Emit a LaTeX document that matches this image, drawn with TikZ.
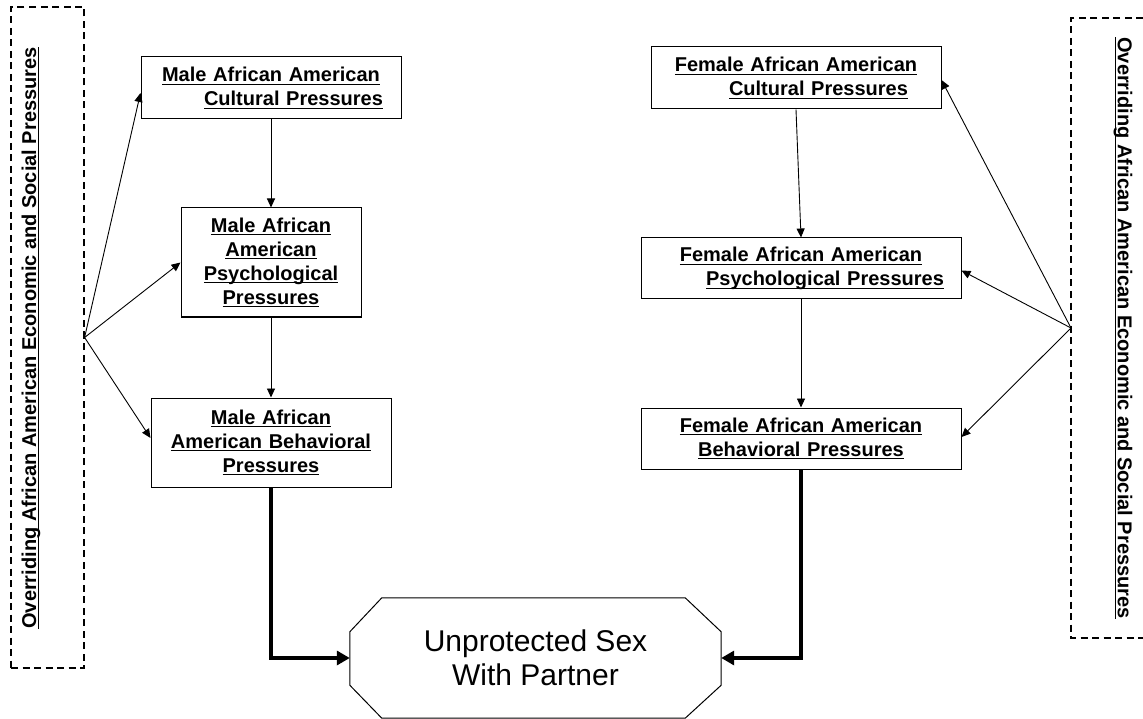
\documentclass[tikz,border=0pt]{standalone}
\usepackage{fontspec}
\setmainfont{Liberation Sans}
\usetikzlibrary{arrows.meta,calc}
\newsavebox\ulbox
\newcommand\ulx[1]{\leavevmode\hbox{\sbox\ulbox{#1}\rlap{\rule[-3pt]{\wd\ulbox}{1pt}}\usebox\ulbox}}
\begin{document}
\begin{tikzpicture}[x=1pt,y=-1pt,
  box/.style={draw,line width=1pt,inner xsep=0pt,inner ysep=0pt,align=center,font=\fontsize{20}{24}\selectfont\bfseries},
  thinarrow/.style={line width=0.9pt,-{Triangle[length=9pt,width=8pt]}},
  boldarrow/.style={line width=4pt,-{Triangle[length=13pt,width=14pt]}},
  dbox/.style={draw,dash pattern=on 7pt off 4.5pt,line width=1.2pt},
  side/.style={font=\fontsize{20}{24}\selectfont\bfseries,inner sep=0pt}]
\useasboundingbox (0,0) rectangle (1143,719);
% dashed side boxes
\node[dbox,minimum width=73pt,minimum height=661pt,inner sep=0pt] (lbox) at (47.5,337.5) {};
\node[side,rotate=90] (ltext) at (31,338) {\ulx{Overriding African American Economic and Social Pressures}};
\draw[dbox] (1143,18) -- (1071,18) -- (1071,638) -- (1143,638);
\node[side,rotate=-90] (rtext) at (1123,328) {\ulx{Overriding African American Economic and Social Pressures}};
\coordinate (L) at (lbox.east);
\coordinate (R) at (1071,328);
% male boxes
\node[box,text width=260pt,minimum height=62pt] (mc) at (271,88) {\ulx{Male African American}\\\hspace*{45pt}\ulx{Cultural Pressures}};
\node[box,text width=180pt,minimum height=109pt] (mp) at (271,262.5) {\ulx{Male African}\\\ulx{American}\\\ulx{Psychological}\\\ulx{Pressures}};
\node[box,text width=240pt,minimum height=89pt] (mb) at (271,442.5) {\ulx{Male African}\\\ulx{American Behavioral}\\\ulx{Pressures}};
% female boxes
\node[box,text width=290pt,minimum height=62pt] (fc) at (796,78) {\ulx{Female African American}\\\hspace*{45pt}\ulx{Cultural Pressures}};
\node[box,text width=320pt,minimum height=61pt] (fp) at (801,268.5) {\ulx{Female African American}\\\hspace*{48pt}\ulx{Psychological Pressures}};
\node[box,text width=320pt,minimum height=61pt] (fb) at (801,438.5) {\ulx{Female African American}\\\ulx{Behavioral Pressures}};
% octagon
\node[minimum width=371pt,minimum height=120pt,inner sep=0pt,align=center,font=\fontsize{30}{34}\selectfont] (sex) at (535.5,658) {Unprotected Sex\\With Partner};
\draw[line width=1pt] ($(sex.north west)+(32,0)$) -- ($(sex.north east)+(-36,0)$) -- ($(sex.north east)+(0,34)$) -- ($(sex.south east)+(0,-33)$) -- ($(sex.south east)+(-36,0)$) -- ($(sex.south west)+(32,0)$) -- ($(sex.south west)+(0,-33)$) -- ($(sex.north west)+(0,34)$) -- cycle;
% arrows left
\draw[thinarrow] (L) -- ($(mc.west)+(0,5)$);
\draw[thinarrow] (L) -- (mp.west);
\draw[thinarrow] (L) -- ($(mb.west)+(0,-4.5)$);
% arrows right
\draw[thinarrow] (R) -- ($(fc.east)+(0,2)$);
\draw[thinarrow] (R) -- ($(fp.east)+(0,2)$);
\draw[thinarrow] (R) -- ($(fb.east)+(0,-1.5)$);
% vertical arrows
\draw[thinarrow] (mc.south) -- (mp.north);
\draw[thinarrow] (mp.south) -- (mb.north);
\draw[thinarrow] (fc.south) -- (fp.north);
\draw[thinarrow] (fp.south) -- (fb.north);
% bold arrows
\draw[boldarrow] (mb.south) |- (sex.west);
\draw[boldarrow] (fb.south) |- (sex.east);
\end{tikzpicture}
\end{document}
